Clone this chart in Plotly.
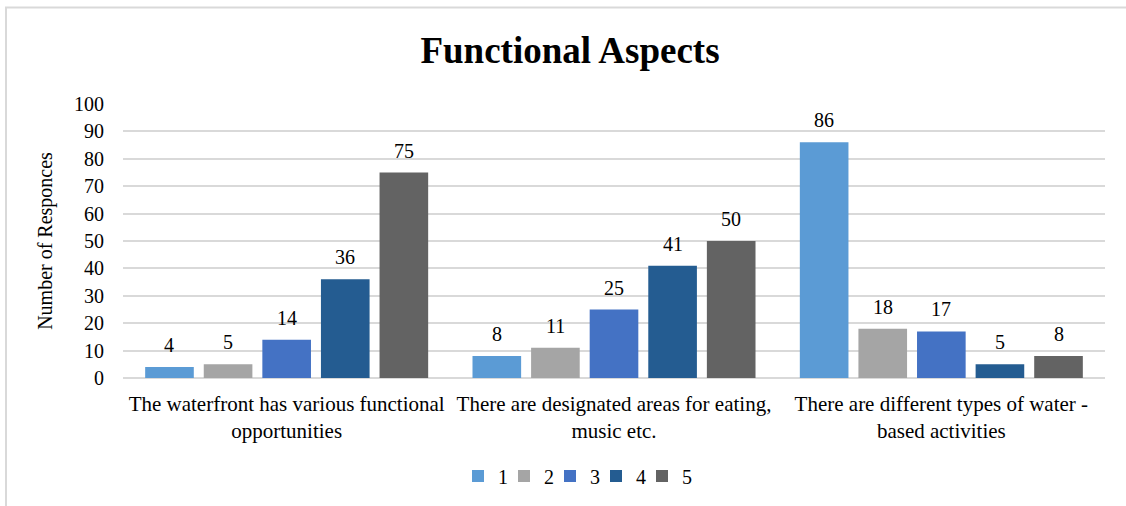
import plotly.graph_objects as go

categories = ["The waterfront has various functional<br>opportunities",
              "There are designated areas for eating,<br>music etc.",
              "There are different types of water -<br>based activities"]
series_names = ["1", "2", "3", "4", "5"]
values_1 = [4, 8, 86]
values_2 = [5, 11, 18]
values_3 = [14, 25, 17]
values_4 = [36, 41, 5]
values_5 = [75, 50, 8]
colors = ["#5B9BD5", "#A5A5A5", "#4472C4", "#245C91", "#636363"]

all_values = [values_1, values_2, values_3, values_4, values_5]

BARGAP = 0.105
n_series = len(all_values)

fig = go.Figure()
annotations = []
for i, (name, vals, col) in enumerate(zip(series_names, all_values, colors)):
    fig.add_trace(go.Bar(
        x=categories, y=vals, name=name,
        marker=dict(color=col, line=dict(width=0)),
    ))
    slot = (1 - BARGAP) / n_series
    off = -(1 - BARGAP) / 2 + (i + 0.5) * slot
    for j, v in enumerate(vals):
        annotations.append(dict(
            x=j + off, y=v, xref="x", yref="y", text=str(v), showarrow=False,
            yanchor="bottom", xanchor="center", yshift=9,
            font=dict(family="Liberation Serif", size=20, color="#000000"),
        ))

# invisible spacer entry so the last legend label is not clipped
fig.add_trace(go.Scatter(x=[None], y=[None], mode="markers", name=" ",
                         marker=dict(color="rgba(0,0,0,0)", size=1,
                                     line=dict(width=0, color="rgba(0,0,0,0)")),
                         hoverinfo="skip"))

L, R, T, B = 123, 21, 104, 128
W, H = 1126, 506
pw, ph = W - L - R, H - T - B

def px(x):
    return (x - L) / pw

def py(y):
    return (H - B - y) / ph

fig.update_layout(
    width=W, height=H,
    margin=dict(l=L, r=R, t=T, b=B, autoexpand=False),
    paper_bgcolor="white", plot_bgcolor="white",
    font=dict(family="Liberation Serif", size=20, color="#000000"),
    barmode="group", bargap=BARGAP, bargroupgap=0.17,
    title=dict(text="<b>Functional Aspects</b>", x=px(570), xref="paper",
               xanchor="center", y=1 - 50 / H, yanchor="middle",
               font=dict(family="Liberation Serif", size=37, color="#000000")),
    showlegend=True,
    legend=dict(orientation="h", x=px(458), xanchor="left", y=py(476), yanchor="middle",
                font=dict(family="Liberation Serif", size=20), itemwidth=30,
                entrywidth=1, entrywidthmode="pixels",
                tracegroupgap=0, itemsizing="constant"),
    xaxis=dict(showgrid=False, showline=False, ticks="", tickfont=dict(size=21),
               ticklabelstandoff=11, fixedrange=True),
    yaxis=dict(range=[0, 100], dtick=10, showgrid=True, gridcolor="#D9D9D9", gridwidth=2,
               zeroline=True, zerolinecolor="#D9D9D9", zerolinewidth=2,
               showline=False, ticks="", tickfont=dict(size=20), ticklabelstandoff=18,
               title=dict(text="Number of Responces", font=dict(size=20), standoff=16),
               fixedrange=True),
    annotations=annotations,
    shapes=[
        dict(type="rect", xref="paper", yref="paper", x0=px(6), x1=px(1135), y0=py(520), y1=py(7.5),
             line=dict(color="#D9D9D9", width=2), fillcolor="rgba(0,0,0,0)", layer="below"),
    ],
)

fig.write_html("out.html", config={"displayModeBar": False},
               post_script="document.body.style.margin='0px';")
